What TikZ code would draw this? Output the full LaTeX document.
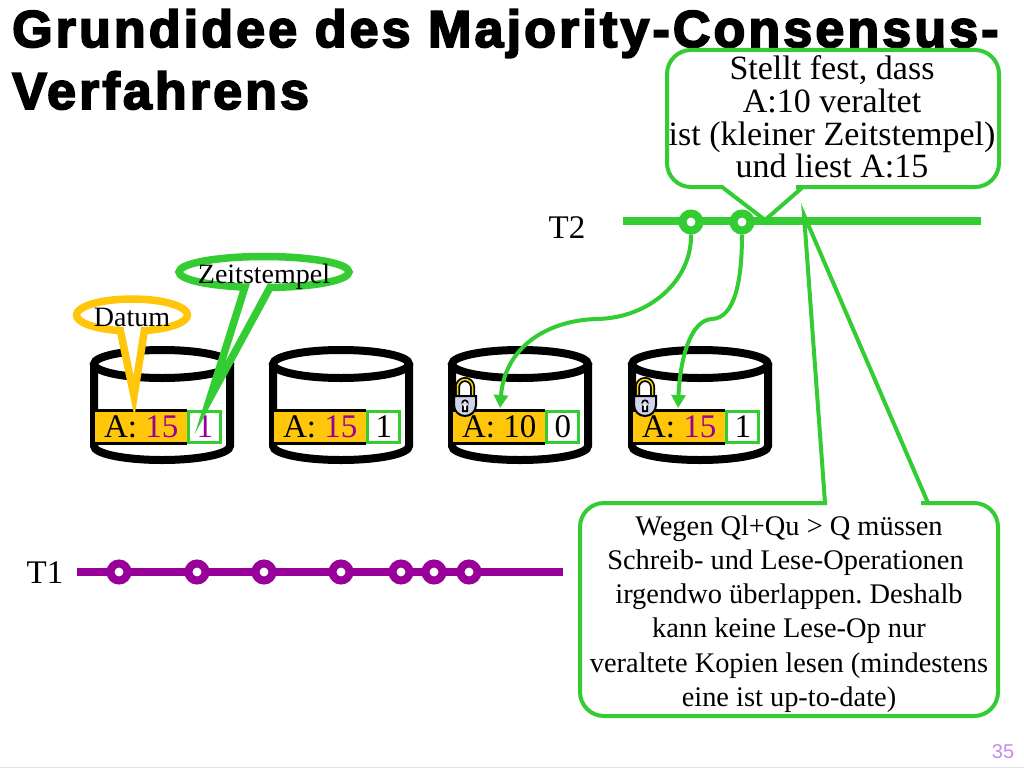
\documentclass[tikz,border=0pt]{standalone}
\usepackage{fontspec}
\setmainfont{Liberation Serif}
\setsansfont{Liberation Sans}
\newfontfamily\titlefont[FakeBold=3.5,LetterSpace=6]{Liberation Sans Bold}
\frenchspacing
\usetikzlibrary{arrows.meta,shapes.callouts}
\definecolor{okgreen}{HTML}{33CC33}
\definecolor{dataorange}{HTML}{FFC60A}
\definecolor{txpurple}{HTML}{990099}
\definecolor{pagelilac}{HTML}{C58AEE}
\definecolor{locklilac}{HTML}{D2D2EA}
\tikzset{>/.tip={Triangle[length=13pt,width=14pt]},
  bubble/.style={draw=okgreen,fill=white,line width=4pt,rounded corners=24pt},
  lane/.style={line width=8pt},
  stepdot/.style={circle,fill=white,line width=8pt,minimum size=17pt,inner sep=0pt},
  databox/.style={fill=dataorange,anchor=west,minimum width=92pt,minimum height=33pt,inner sep=0pt},
  stampbox/.style={draw=okgreen,fill=white,line width=3pt,anchor=west,minimum width=32pt,minimum height=31pt,inner sep=0pt},
  cellfont/.style={font=\fontsize{33}{33}\selectfont},
  notefont/.style={font=\fontsize{28}{28}\selectfont},
  oval/.style={ellipse callout,fill=white,line width=7.5pt,inner sep=0pt,miter limit=20,notefont,text depth=0pt}
}
\newcommand{\ovaltext}[1]{\makebox[50pt]{\raisebox{-11pt}[0pt][0pt]{#1}}}
\newcommand{\padlock}[1]{%
  \draw[black,line width=5pt] (#1-7.5,397) -- ++(0,-10) arc (180:360:7.5 and 7.5) -- ++(0,10);
  \draw[yellow!75!orange,line width=1.5pt] (#1-7.5,397) -- ++(0,-10) arc (180:360:7.5 and 7.5) -- ++(0,10);
  \filldraw[fill=locklilac,draw=black,line width=2pt] (#1-11,396) -- (#1+11,396) -- ++(0,9) arc (0:90:11 and 11) arc (90:180:11 and 11) -- cycle;
  \fill[black] (#1,403) circle (3.6) (#1-3,403) rectangle (#1+3,412);
  \fill[white] (#1,403) circle (1.8) (#1-1.2,403) rectangle (#1+1.2,410);
}
\tikzset{titletext/.style={anchor=base west,inner sep=0pt,font=\titlefont\fontsize{52}{62}\selectfont}}
\begin{document}
\begin{tikzpicture}[x=1pt,y=-1pt]
\useasboundingbox (0,0) rectangle (1024,768);
\node[titletext] (title) at (12,47) {Grundidee des Majority-Consensus-};
\node[titletext] (title2) at (12,109) {Verfahrens};
% the four copies
\foreach \i/\x/\val/\col/\stamp/\stampcol in {1/162/15/txpurple/1/txpurple,2/341/15/txpurple/1/black,3/520/10/black/0/black,4/700/15/txpurple/1/black}
{
  \draw[line width=8pt,fill=white] (\x-68,364) -- (\x-68,446) arc (180:0:68 and 14) -- (\x+68,364);
  \draw[line width=8pt,fill=white] (\x,364) ellipse (68 and 14);
  \node[databox,draw=none,cellfont] (data\i) at (\x-67,427) {\raisebox{-3.5pt}{A: \textcolor{\col}{\val}}};
  \draw[line width=3pt] (data\i.north west) -- (data\i.north east) (data\i.south west) -- (data\i.south east);
  \node[stampbox,cellfont,text=\stampcol] (stamp\i) at (data\i.east) {\raisebox{-3.5pt}{\stamp}};
}
\padlock{465}
\padlock{645}
% labels on the first copy
\node[oval,draw=dataorange,minimum width=111pt,minimum height=32pt,callout pointer arc=25,callout absolute pointer={(134,396)}] (datum) at (132,315) {\ovaltext{Datum}};
\node[oval,draw=okgreen,minimum width=170pt,minimum height=31pt,callout pointer arc=17,callout absolute pointer={(210,398)}] (zeit) at (264,272) {\ovaltext{Zeitstempel}};
% upper note
\coordinate (upperTip) at (765,220);
\draw[bubble] (722,187) -- (667,187) -- (667,50) -- (999,50) -- (999,187) -- (820,187) [sharp corners] -- (803,187) -- (upperTip) -- cycle;
\node[align=center,inner sep=0pt,font=\fontsize{34}{32.6}\selectfont] (upperNote) at (832,117) {Stellt fest, dass\\A:10 veraltet\\ist (kleiner Zeitstempel)\\und liest A:15};
% transactions
\node[cellfont] (T2) at (567,228) {T2};
\node[cellfont] (T1) at (45,573) {T1};
\coordinate (t2start) at (623,221);
\coordinate (t2end) at (981,221);
\coordinate (t1start) at (77,572);
\coordinate (t1end) at (563,572);
\draw[lane,draw=okgreen] (t2start) -- (t2end);
\draw[lane,draw=txpurple] (t1start) -- (t1end);
\foreach \i/\x in {1/119,2/197,3/264,4/341,5/401,6/434,7/469}
{
  \node[stepdot,draw=txpurple] (w\i) at (\x,572) {};
}
\node[stepdot,draw=okgreen] (r1) at (691,222) {};
\node[stepdot,draw=okgreen] (r2) at (742,222) {};
% reads
\coordinate (read1) at (500,408);
\coordinate (read2) at (678,408);
\draw[->,draw=okgreen,line width=4pt] (r1.south) .. controls (692,280) and (650,318) .. (597,319) .. controls (550,320) and (505,345) .. (read1);
\draw[->,draw=okgreen,line width=4pt] (r2.south) .. controls (742,280) and (735,318) .. (712,319) .. controls (690,320) and (680,360) .. (read2);
% lower note
\coordinate (lowerTip) at (804,215);
\draw[bubble] (825,503) -- (580,503) -- (580,716) -- (998,716) -- (998,503) -- (945,503) [sharp corners] -- (928,503) -- (lowerTip) -- cycle;
\node[align=center,inner sep=0pt,font=\fontsize{28.4}{34.2}\selectfont] (lowerNote) at (789,614) {Wegen Ql+Qu > Q müssen\\Schreib- und Lese-Operationen\kern7pt\\irgendwo überlappen. Deshalb\\kann keine Lese-Op nur\\veraltete Kopien lesen (mindestens\\eine ist up-to-date)};
\node[text=pagelilac,font=\sffamily\fontsize{20}{20}\selectfont] (page) at (1003,752) {35};
\coordinate (footL) at (0,767);
\coordinate (footR) at (1024,767);
\draw[black!12,line width=1pt] (footL) -- (footR);
\end{tikzpicture}
\end{document}
